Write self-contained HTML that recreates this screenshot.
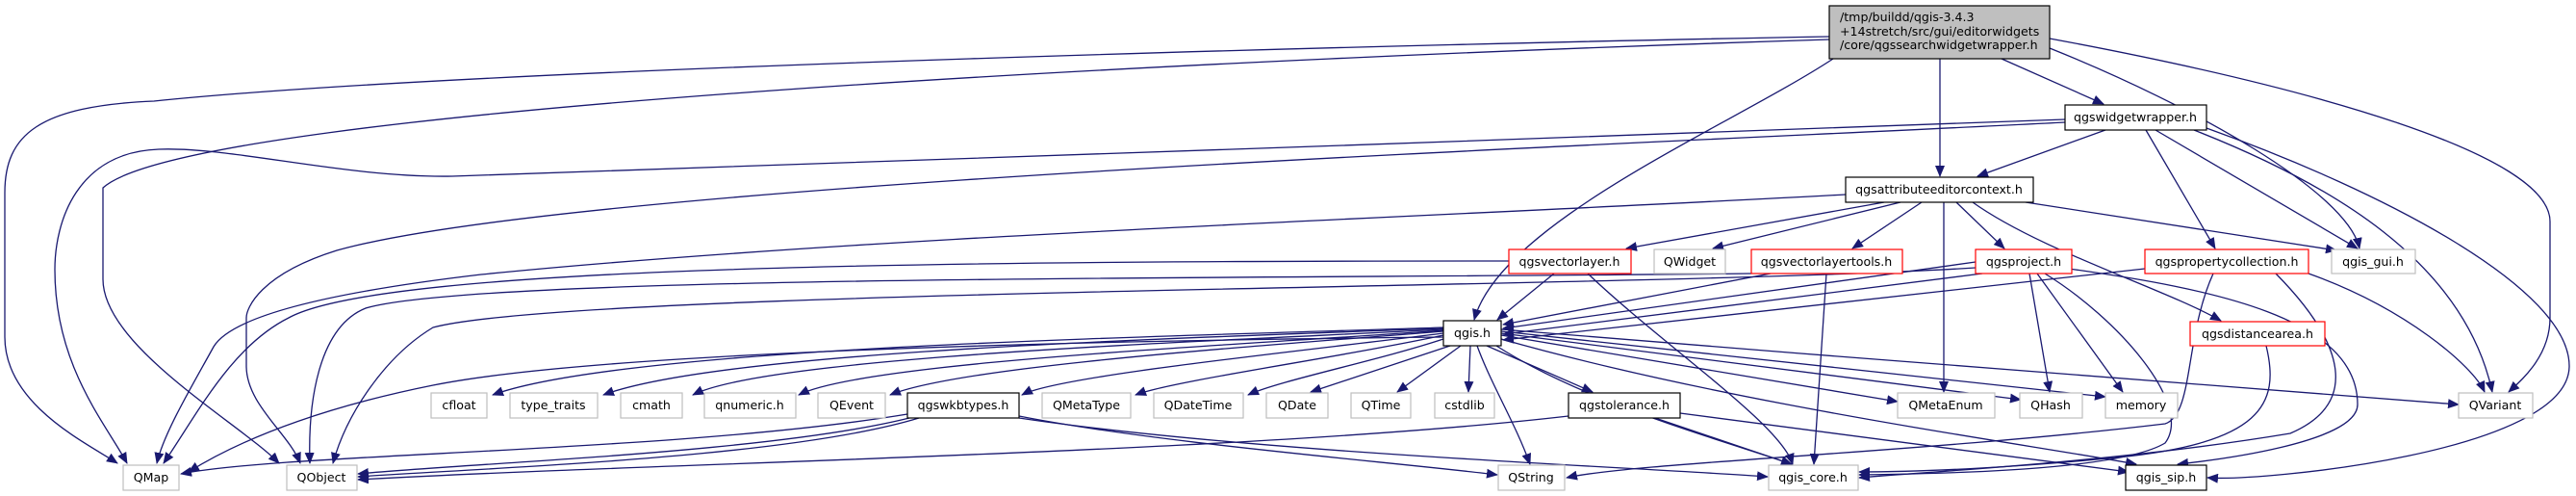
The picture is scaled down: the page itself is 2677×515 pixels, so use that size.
<!DOCTYPE html>
<html><head><meta charset="utf-8"><style>
html,body{margin:0;padding:0;background:#fff;width:2677px;height:515px;overflow:hidden}
svg{display:block}
text{font-family:"DejaVu Sans","Liberation Sans",sans-serif;font-size:12.6px;fill:#000}
.e{fill:none;stroke:#191970;stroke-width:1.3;marker-end:url(#a)}
</style></head><body>
<svg width="2677" height="515" viewBox="0 0 2677 515" xmlns="http://www.w3.org/2000/svg">
<defs><marker id="a" markerUnits="userSpaceOnUse" markerWidth="12" markerHeight="10" refX="11" refY="5" orient="auto"><path d="M0,0 L12,5 L0,10 z" fill="#191970"/></marker></defs>
<g>
<path class="e" d="M2080,61 L2186,108"/>
<path class="e" d="M2016,61 L2016,183"/>
<path class="e" d="M1905,61 C1800,130 1560,230 1532,332"/>
<path class="e" d="M2130,50 C2280,110 2440,200 2452,258"/>
<path class="e" d="M2130,40 C2400,90 2650,160 2650,230 L2650,330 C2650,370 2620,395 2607,407"/>
<path class="e" d="M1901,38 C1500,45 500,70 160,105 C40,110 5,140 5,200 L5,350 C5,420 90,460 122,481"/>
<path class="e" d="M1901,41 C1300,60 200,110 107,195 L107,290 C107,360 250,440 290,481"/>
<path class="e" d="M2188,135 L2055,183"/>
<path class="e" d="M2230,135 L2302,258"/>
<path class="e" d="M2240,135 L2450,258"/>
<path class="e" d="M2280,135 C2420,190 2560,270 2590,407"/>
<path class="e" d="M2293,133 C2480,200 2670,300 2670,380 C2670,470 2350,500 2294,496"/>
<path class="e" d="M2146,124 C1700,140 600,180 470,183 C360,185 240,152 165,155 C80,158 57,230 57,280 C57,380 110,440 132,481"/>
<path class="e" d="M2146,127 C1700,150 600,190 350,260 C270,285 256,320 256,330 L256,380 C256,420 300,450 312,481"/>
<path class="e" d="M1958,210 L1690,258"/>
<path class="e" d="M1975,210 L1780,258"/>
<path class="e" d="M1997,210 L1925,258"/>
<path class="e" d="M2020,210 L2020,407"/>
<path class="e" d="M2033,210 L2083,258"/>
<path class="e" d="M2050,210 C2120,260 2250,300 2308,333"/>
<path class="e" d="M2105,210 L2428,260"/>
<path class="e" d="M1918,202 C1500,225 900,245 500,285 C330,305 240,330 222,360 C200,400 170,450 163,481"/>
<path class="e" d="M1615,284 L1556,332"/>
<path class="e" d="M1568,271 C1000,271 400,275 300,330 C240,360 205,430 170,481"/>
<path class="e" d="M1650,284 C1730,360 1850,440 1863,482"/>
<path class="e" d="M1840,284 L1562,337"/>
<path class="e" d="M1898,284 L1885,482"/>
<path class="e" d="M1820,284 C1300,290 500,285 380,320 C330,340 320,420 322,481"/>
<path class="e" d="M2053,272 L1562,341"/>
<path class="e" d="M2060,284 L1562,347"/>
<path class="e" d="M2053,278 C1700,300 600,300 450,340 C400,370 360,430 346,481"/>
<path class="e" d="M2109,284 L2130,407"/>
<path class="e" d="M2117,284 L2206,407"/>
<path class="e" d="M2125,284 C2200,330 2280,420 2250,460 C2200,490 2000,492 1932,493"/>
<path class="e" d="M2150,279 C2300,300 2450,330 2450,420 C2450,460 2300,478 2263,482"/>
<path class="e" d="M2229,279 L1562,353"/>
<path class="e" d="M2300,284 C2270,350 2280,430 2250,440 C2000,470 1700,480 1628,496"/>
<path class="e" d="M2365,284 C2440,360 2450,420 2380,450 C2200,480 2000,490 1932,496"/>
<path class="e" d="M2399,284 C2500,320 2570,380 2582,407"/>
<path class="e" d="M2355,359 C2370,420 2350,460 2200,475 C2100,485 2000,490 1932,490"/>
<path class="e" d="M1500,340 C1200,350 650,360 512,410"/>
<path class="e" d="M1500,341 C1200,352 750,365 627,410"/>
<path class="e" d="M1500,342 C1250,355 800,370 720,410"/>
<path class="e" d="M1500,343 C1300,358 900,375 830,410"/>
<path class="e" d="M1500,344 C1300,360 1000,380 925,410"/>
<path class="e" d="M1500,346 C1350,365 1100,390 1062,410"/>
<path class="e" d="M1500,348 C1400,370 1220,395 1180,410"/>
<path class="e" d="M1500,352 C1430,375 1330,395 1297,410"/>
<path class="e" d="M1507,359 L1362,407"/>
<path class="e" d="M1518,359 L1452,407"/>
<path class="e" d="M1528,359 L1526,407"/>
<path class="e" d="M1500,350 C1000,355 600,370 450,400 C350,420 260,450 196,490"/>
<path class="e" d="M1545,359 L1655,407"/>
<path class="e" d="M1535,359 C1550,400 1575,440 1590,482"/>
<path class="e" d="M1555,359 C1650,420 1800,460 1862,482"/>
<path class="e" d="M1560,352 C1800,420 2100,460 2220,482"/>
<path class="e" d="M1560,348 L1972,417"/>
<path class="e" d="M1560,346 L2100,415"/>
<path class="e" d="M1560,344 L2188,412"/>
<path class="e" d="M1560,342 C1900,370 2300,400 2555,420"/>
<path class="e" d="M943,430 C700,470 300,470 188,492"/>
<path class="e" d="M945,434 C800,470 500,480 372,492"/>
<path class="e" d="M955,434 C820,475 520,485 372,495"/>
<path class="e" d="M1059,432 C1200,460 1450,480 1556,493"/>
<path class="e" d="M1059,434 C1300,470 1700,485 1837,495"/>
<path class="e" d="M1630,432 C1300,470 700,480 372,498"/>
<path class="e" d="M1720,434 L1862,482"/>
<path class="e" d="M1746,429 L2212,490"/>
</g>
<g stroke-width="1.2">
<rect x="1901" y="6" width="229" height="55" fill="#bfbfbf" stroke="#000"/>
<text x="1912" y="22">/tmp/buildd/qgis-3.4.3</text>
<text x="1912" y="37">+14stretch/src/gui/editorwidgets</text>
<text x="1912" y="51">/core/qgssearchwidgetwrapper.h</text>
</g>
<g fill="#fff" stroke-width="1.2">
<rect x="2146" y="109" width="147" height="26" stroke="#000"/>
<rect x="1918" y="184" width="195" height="26" stroke="#000"/>
<rect x="1568" y="259" width="127" height="25" stroke="#f00"/>
<rect x="1719" y="259" width="74" height="25" stroke="#bfbfbf"/>
<rect x="1820" y="259" width="157" height="25" stroke="#f00"/>
<rect x="2053" y="259" width="100" height="25" stroke="#f00"/>
<rect x="2229" y="259" width="170" height="25" stroke="#f00"/>
<rect x="2423" y="259" width="87" height="25" stroke="#bfbfbf"/>
<rect x="1500" y="333" width="60" height="26" stroke="#000"/>
<rect x="2276" y="334" width="140" height="25" stroke="#f00"/>
<rect x="448" y="408" width="58" height="26" stroke="#bfbfbf"/>
<rect x="530" y="408" width="91" height="26" stroke="#bfbfbf"/>
<rect x="645" y="408" width="64" height="26" stroke="#bfbfbf"/>
<rect x="732" y="408" width="95" height="26" stroke="#bfbfbf"/>
<rect x="850" y="408" width="70" height="26" stroke="#bfbfbf"/>
<rect x="943" y="408" width="116" height="26" stroke="#000"/>
<rect x="1083" y="408" width="92" height="26" stroke="#bfbfbf"/>
<rect x="1199" y="408" width="93" height="26" stroke="#bfbfbf"/>
<rect x="1316" y="408" width="64" height="26" stroke="#bfbfbf"/>
<rect x="1404" y="408" width="62" height="26" stroke="#bfbfbf"/>
<rect x="1491" y="408" width="62" height="26" stroke="#bfbfbf"/>
<rect x="1630" y="408" width="116" height="26" stroke="#000"/>
<rect x="1972" y="408" width="101" height="26" stroke="#bfbfbf"/>
<rect x="2099" y="408" width="65" height="26" stroke="#bfbfbf"/>
<rect x="2188" y="408" width="75" height="26" stroke="#bfbfbf"/>
<rect x="2555" y="408" width="77" height="26" stroke="#bfbfbf"/>
<rect x="128" y="483" width="58" height="26" stroke="#bfbfbf"/>
<rect x="298" y="483" width="73" height="26" stroke="#bfbfbf"/>
<rect x="1557" y="483" width="69" height="26" stroke="#bfbfbf"/>
<rect x="1838" y="483" width="93" height="26" stroke="#bfbfbf"/>
<rect x="2209" y="483" width="84" height="26" stroke="#000"/>
</g>
<g text-anchor="middle">
<text x="2219" y="126">qgswidgetwrapper.h</text>
<text x="2015" y="201">qgsattributeeditorcontext.h</text>
<text x="1631" y="276">qgsvectorlayer.h</text>
<text x="1756" y="276">QWidget</text>
<text x="1898" y="276">qgsvectorlayertools.h</text>
<text x="2103" y="276">qgsproject.h</text>
<text x="2314" y="276">qgspropertycollection.h</text>
<text x="2466" y="276">qgis_gui.h</text>
<text x="1530" y="350">qgis.h</text>
<text x="2346" y="351">qgsdistancearea.h</text>
<text x="477" y="425">cfloat</text>
<text x="575" y="425">type_traits</text>
<text x="677" y="425">cmath</text>
<text x="779" y="425">qnumeric.h</text>
<text x="885" y="425">QEvent</text>
<text x="1001" y="425">qgswkbtypes.h</text>
<text x="1129" y="425">QMetaType</text>
<text x="1245" y="425">QDateTime</text>
<text x="1348" y="425">QDate</text>
<text x="1435" y="425">QTime</text>
<text x="1522" y="425">cstdlib</text>
<text x="1688" y="425">qgstolerance.h</text>
<text x="2022" y="425">QMetaEnum</text>
<text x="2131" y="425">QHash</text>
<text x="2225" y="425">memory</text>
<text x="2593" y="425">QVariant</text>
<text x="157" y="500">QMap</text>
<text x="334" y="500">QObject</text>
<text x="1591" y="500">QString</text>
<text x="1884" y="500">qgis_core.h</text>
<text x="2251" y="500">qgis_sip.h</text>
</g>
</svg>
</body></html>
